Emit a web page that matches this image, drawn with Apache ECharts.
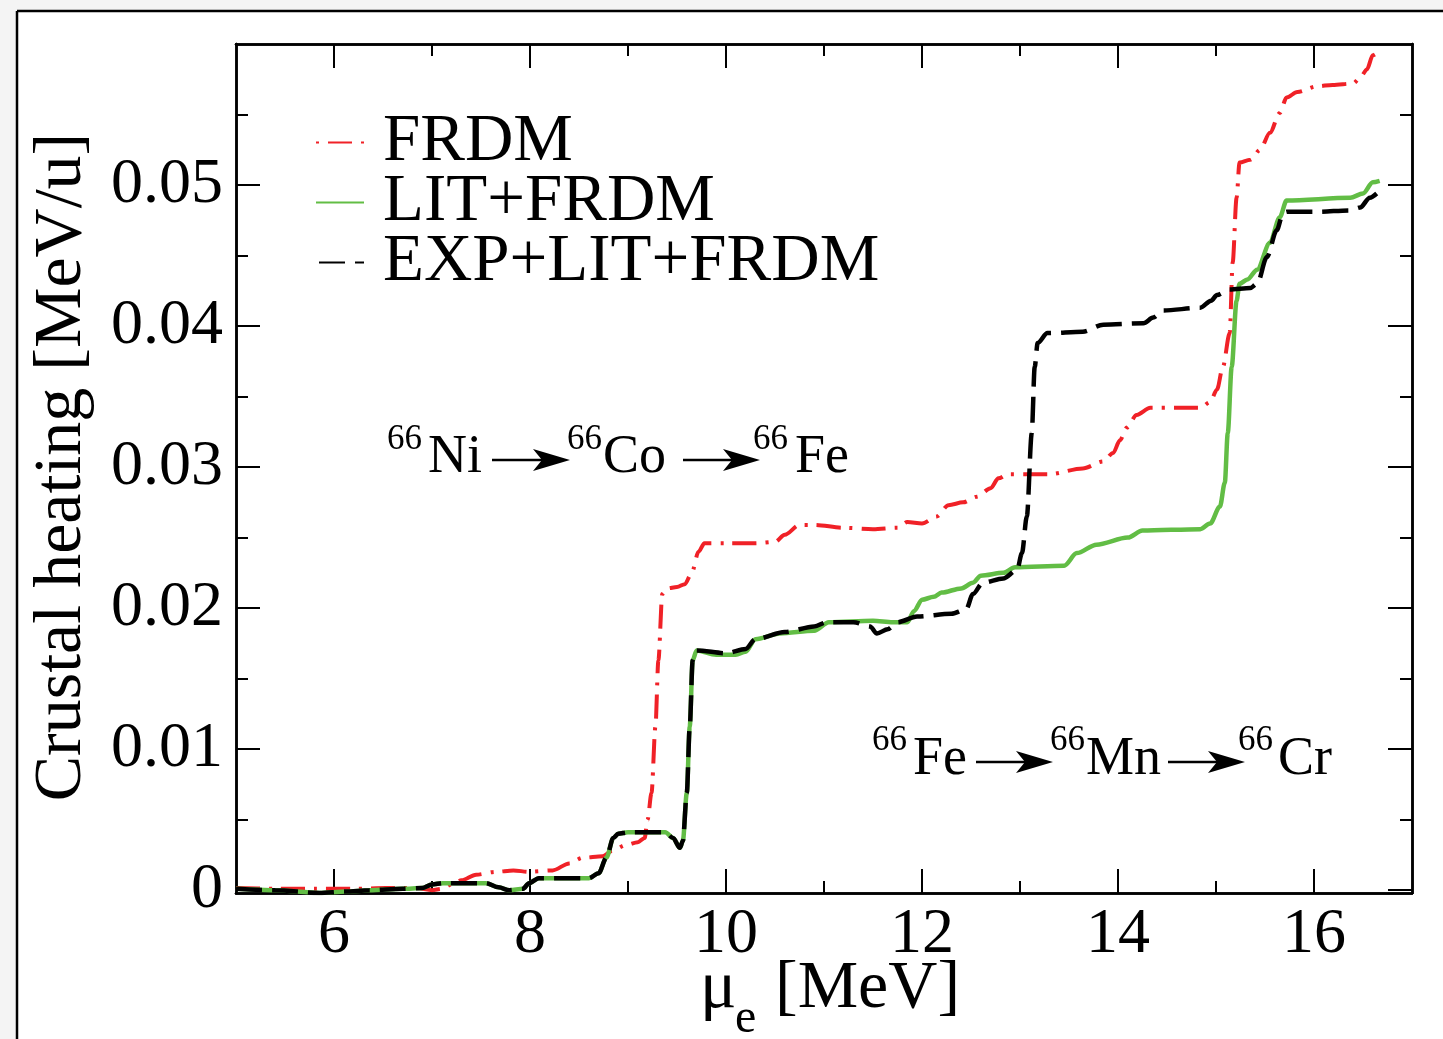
<!DOCTYPE html>
<html><head><meta charset="utf-8">
<script src="https://cdn.jsdelivr.net/npm/echarts@6/dist/echarts.min.js"></script>
<style>html,body{margin:0;padding:0;background:#fff;} #c{width:1443px;height:1039px;}</style>
</head><body><div id="c"></div>
<script>
const xTicksMajor = [6, 8, 10, 12, 14, 16];
const xTicksMinor = [7, 9, 11, 13, 15];
const yTicksMajor = [0, 0.01, 0.02, 0.03, 0.04, 0.05];
const yTicksMinor = [0.005, 0.015, 0.025, 0.035, 0.045, 0.055];
const seriesNames = ['FRDM', 'LIT+FRDM', 'EXP+LIT+FRDM'];

const frdmX = [5.0, 5.4, 5.8, 6.2, 6.53, 6.84, 7.0, 7.1, 7.2, 7.3, 7.45, 7.65, 7.83, 7.99, 8.23, 8.4, 8.54, 8.74, 8.84, 8.98, 9.1, 9.17, 9.2, 9.24, 9.28, 9.31, 9.35, 9.4, 9.5, 9.58, 9.65, 9.72, 9.78, 10.0, 10.3, 10.5, 10.6, 10.75, 10.9, 11.2, 11.5, 11.75, 11.85, 12.0, 12.15, 12.27, 12.42, 12.56, 12.7, 12.78, 12.88, 13.1, 13.3, 13.64, 13.85, 13.95, 14.02, 14.09, 14.19, 14.33, 14.6, 14.84, 14.94, 15.01, 15.07, 15.14, 15.17, 15.21, 15.24, 15.35, 15.45, 15.55, 15.65, 15.72, 15.83, 16.03, 16.19, 16.4, 16.47, 16.54, 16.6, 16.65];
const frdmY = [0.00015, 0.0001, 0.0001, 0.0001, 0.00015, 0.00015, 0.0, 0.0001, 0.0004, 0.0007, 0.0011, 0.0013, 0.0014, 0.0013, 0.0014, 0.0019, 0.0023, 0.0024, 0.0028, 0.0032, 0.0034, 0.0037, 0.005, 0.0069, 0.0116, 0.0163, 0.021, 0.0214, 0.0215, 0.0217, 0.0225, 0.024, 0.0246, 0.0246, 0.0246, 0.0247, 0.0252, 0.0259, 0.0259, 0.0257, 0.0256, 0.0257, 0.0261, 0.026, 0.0265, 0.0273, 0.0275, 0.0279, 0.0285, 0.0292, 0.0295, 0.0295, 0.0295, 0.0299, 0.0304, 0.031, 0.0319, 0.0328, 0.0337, 0.0342, 0.0342, 0.0342, 0.0346, 0.0355, 0.0371, 0.0395, 0.0445, 0.0491, 0.0516, 0.0518, 0.0525, 0.0537, 0.0551, 0.0562, 0.0566, 0.057, 0.0571, 0.0572, 0.0576, 0.0582, 0.0592, 0.0594];

const litX = [5.0, 5.4, 5.85, 6.12, 6.36, 6.7, 6.9, 7.0, 7.11, 7.55, 7.68, 7.79, 7.93, 7.99, 8.09, 8.6, 8.7, 8.78, 8.85, 8.9, 9.0, 9.38, 9.46, 9.53, 9.56, 9.6, 9.63, 9.66, 9.7, 9.9, 10.1, 10.2, 10.3, 10.55, 10.9, 11.05, 11.5, 11.7, 11.85, 11.92, 12.0, 12.12, 12.2, 12.4, 12.52, 12.6, 12.83, 12.95, 13.45, 13.58, 13.78, 14.1, 14.25, 14.84, 14.94, 15.04, 15.09, 15.12, 15.16, 15.21, 15.24, 15.32, 15.42, 15.55, 15.65, 15.72, 16.37, 16.5, 16.6, 16.67];
const litY = [0.0001, 0.0, -0.0002, -0.0001, 0.0, 0.0001, 0.00015, 0.0004, 0.0005, 0.0005, 0.0002, 0.0, 0.0001, 0.0005, 0.00085, 0.00085, 0.0012, 0.0023, 0.0037, 0.004, 0.0041, 0.0041, 0.0037, 0.003, 0.0035, 0.0069, 0.0116, 0.0163, 0.017, 0.0167, 0.0167, 0.0169, 0.0178, 0.0182, 0.0184, 0.019, 0.0191, 0.019, 0.019, 0.0198, 0.0206, 0.0208, 0.0211, 0.0214, 0.0218, 0.0223, 0.0225, 0.0229, 0.023, 0.0239, 0.0245, 0.025, 0.0255, 0.0256, 0.026, 0.0272, 0.0289, 0.0324, 0.0371, 0.0418, 0.043, 0.0433, 0.044, 0.0459, 0.0477, 0.0489, 0.0491, 0.0494, 0.0502, 0.0503];

const expX = [5.0, 5.4, 5.85, 6.12, 6.36, 6.7, 6.9, 7.0, 7.11, 7.55, 7.68, 7.79, 7.93, 7.99, 8.09, 8.6, 8.7, 8.78, 8.85, 8.9, 9.0, 9.38, 9.46, 9.53, 9.56, 9.6, 9.63, 9.66, 9.7, 10.0, 10.2, 10.3, 10.6, 10.9, 11.03, 11.3, 11.47, 11.54, 11.65, 11.75, 11.95, 12.3, 12.45, 12.52, 12.62, 12.83, 12.97, 13.02, 13.07, 13.12, 13.15, 13.18, 13.28, 13.64, 13.85, 14.26, 14.36, 14.46, 14.84, 14.95, 15.01, 15.14, 15.35, 15.42, 15.52, 15.62, 15.68, 15.72, 16.03, 16.37, 16.47, 16.57, 16.64];
const expY = [0.0001, 0.0, -0.0002, -0.0001, 0.0, 0.0001, 0.00015, 0.0004, 0.0005, 0.0005, 0.0002, 0.0, 0.0001, 0.0005, 0.00085, 0.00085, 0.0012, 0.0023, 0.0037, 0.004, 0.0041, 0.0041, 0.0037, 0.003, 0.0035, 0.0069, 0.0116, 0.0163, 0.017, 0.0168, 0.0171, 0.0178, 0.0183, 0.0187, 0.019, 0.019, 0.0187, 0.0182, 0.0185, 0.019, 0.0194, 0.0196, 0.0199, 0.021, 0.0218, 0.0221, 0.0227, 0.0239, 0.0265, 0.0324, 0.0371, 0.0388, 0.0395, 0.0396, 0.0401, 0.0402, 0.0406, 0.0411, 0.0413, 0.0418, 0.0422, 0.0426, 0.0427, 0.043, 0.0449, 0.0468, 0.0479, 0.0481, 0.0481, 0.0482, 0.0484, 0.0491, 0.0494];

const FONT = 'Liberation Serif';
const zip = (xs, ys) => xs.map((x, i) => [x, ys[i]]);

const gridRect = { left: 236, top: 44, width: 1176, height: 849 };
const XMIN = 5, XMAX = 17, YMIN = -0.0002, YMAX = 0.06;
const axisLineStyle = { color: '#000', width: 2.5 };
const tickLine = { color: '#000', width: 2 };

function xAxis(grid, pos, ticks, len, labels) {
  return {
    type: 'value', gridIndex: grid, position: pos, min: XMIN, max: XMAX,
    axisLine: { show: true, onZero: false, lineStyle: axisLineStyle },
    axisTick: { show: true, inside: true, length: len, customValues: ticks, lineStyle: tickLine },
    axisLabel: labels ? { show: true, customValues: ticks, margin: 10, color: '#000', fontFamily: FONT, fontSize: 64 } : { show: false },
    splitLine: { show: false }
  };
}
function yAxis(grid, pos, ticks, len, labels) {
  return {
    type: 'value', gridIndex: grid, position: pos, min: YMIN, max: YMAX,
    axisLine: { show: true, onZero: false, lineStyle: axisLineStyle },
    axisTick: { show: true, inside: true, length: len, customValues: ticks, lineStyle: tickLine },
    axisLabel: labels ? { show: true, customValues: ticks, margin: 13, color: '#000', fontFamily: FONT, fontSize: 64,
      formatter: v => (Math.abs(v) < 1e-9 ? '0' : v.toFixed(2)) } : { show: false },
    splitLine: { show: false }
  };
}

function txt(text, x, baseline, size, align) {
  return { type: 'text', x: x, y: baseline - 0.34 * size,
    style: { text: text, fontFamily: FONT, fontSize: size, fill: '#000', align: align || 'left', verticalAlign: 'middle' } };
}
function arrow(x1, x2, y) {
  return [
    { type: 'line', shape: { x1: x1, y1: y, x2: x2 - 28, y2: y }, style: { stroke: '#000', lineWidth: 2.5 } },
    { type: 'polygon', shape: { points: [[x2, y], [x2 - 37, y - 11], [x2 - 28, y], [x2 - 37, y + 11]] }, style: { fill: '#000' } }
  ];
}

const graphics = [
  { type: 'rect', shape: { x: 0, y: 0, width: 1443, height: 11 }, style: { fill: '#f4f4f4' }, silent: true },
  { type: 'rect', shape: { x: 0, y: 0, width: 17, height: 1039 }, style: { fill: '#f4f4f4' }, silent: true },
  { type: 'line', shape: { x1: 17, y1: 11, x2: 1443, y2: 11 }, style: { stroke: '#000', lineWidth: 2.5 } },
  { type: 'line', shape: { x1: 17, y1: 11, x2: 17, y2: 1039 }, style: { stroke: '#000', lineWidth: 2.5 } },
  { type: 'text', x: 62, y: 467, rotation: Math.PI / 2,
    style: { text: 'Crustal heating [MeV/u]', fontFamily: FONT, fontSize: 68, fill: '#000', align: 'center', verticalAlign: 'middle' } },
  txt('\u03bc', 700, 1012, 68),
  txt('e', 735, 1036, 48),
  txt('[MeV]', 775, 1012, 68),
  txt('66', 387, 452, 35), txt('Ni', 428, 476, 54),
  ...arrow(492, 570, 460),
  txt('66', 567, 452, 35), txt('Co', 603, 476, 54),
  ...arrow(683, 760, 460),
  txt('66', 753, 452, 35), txt('Fe', 795, 476, 54),
  txt('66', 872, 753, 35), txt('Fe', 913, 778, 54),
  ...arrow(976, 1053, 762),
  txt('66', 1050, 753, 35), txt('Mn', 1086, 778, 54),
  ...arrow(1168, 1245, 762),
  txt('66', 1238, 753, 35), txt('Cr', 1278, 778, 54)
];

const chart = echarts.init(document.getElementById('c'), null, { renderer: 'canvas' });
chart.setOption({
  backgroundColor: '#fff',
  animation: false,
  grid: [Object.assign({}, gridRect), Object.assign({}, gridRect)],
  xAxis: [
    xAxis(0, 'bottom', xTicksMajor, 24, true),
    xAxis(0, 'top', xTicksMajor, 24, false),
    xAxis(1, 'bottom', xTicksMinor, 12, false),
    xAxis(1, 'top', xTicksMinor, 12, false)
  ],
  yAxis: [
    yAxis(0, 'left', yTicksMajor, 24, true),
    yAxis(0, 'right', yTicksMajor, 24, false),
    yAxis(1, 'left', yTicksMinor, 12, false),
    yAxis(1, 'right', yTicksMinor, 12, false)
  ],
  legend: {
    orient: 'vertical', left: 310, top: 104, itemWidth: 48, itemHeight: 14, itemGap: -7,
    itemStyle: { opacity: 0 },
    textStyle: { fontFamily: FONT, fontSize: 67, color: '#000', lineHeight: 58, padding: [0, 0, 0, 14] },
    data: [
      { name: seriesNames[0], lineStyle: { dashOffset: 33 } },
      { name: seriesNames[1] },
      { name: seriesNames[2] }
    ]
  },
  graphic: graphics,
  series: [
    { type: 'line', name: seriesNames[0], xAxisIndex: 0, yAxisIndex: 0, data: zip(frdmX, frdmY),
      symbol: 'none', showSymbol: false, smooth: 0.3, smoothMonotone: 'x', z: 3,
      lineStyle: { color: '#f02127', width: 4, type: [24, 9, 3, 9] }, itemStyle: { color: '#f02127' } },
    { type: 'line', name: seriesNames[1], xAxisIndex: 0, yAxisIndex: 0, data: zip(litX, litY),
      symbol: 'none', showSymbol: false, smooth: 0.3, smoothMonotone: 'x', z: 4,
      lineStyle: { color: '#62bd45', width: 4.5 }, itemStyle: { color: '#62bd45' } },
    { type: 'line', name: seriesNames[2], xAxisIndex: 0, yAxisIndex: 0, data: zip(expX, expY),
      symbol: 'none', showSymbol: false, smooth: 0.3, smoothMonotone: 'x', z: 5,
      lineStyle: { color: '#000', width: 4.5, type: [26, 10] }, itemStyle: { color: '#000' } }
  ]
});
</script>
</body></html>
